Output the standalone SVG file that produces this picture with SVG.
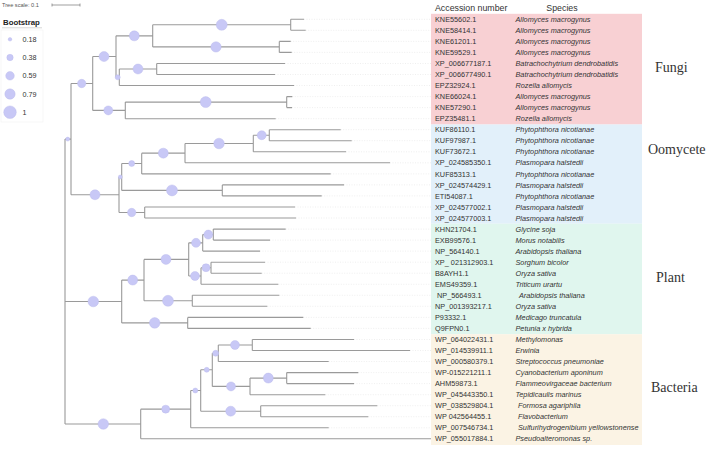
<svg xmlns="http://www.w3.org/2000/svg" width="709" height="450" viewBox="0 0 709 450">
<style>
.br{fill:none;stroke:#9a9a9a;stroke-width:1.1}
.dot{fill:none;stroke:#e4e4e4;stroke-width:0.6;stroke-dasharray:1 1.5}
.bs{fill:#c8c8f6;stroke:#b9b9ec;stroke-width:0.4}
.acc{font-family:"Liberation Sans",Arial,sans-serif;font-size:7.3px;fill:#333}
.sp{font-family:"Liberation Sans",Arial,sans-serif;font-size:7.3px;font-style:italic;fill:#333}
.hdr{font-family:"Liberation Sans",Arial,sans-serif;font-size:8.8px;fill:#333}
.grp{font-family:"Liberation Serif","Times New Roman",serif;font-size:14px;fill:#333}
.lg{font-family:"Liberation Sans",Arial,sans-serif;font-size:7.2px;fill:#333}
</style>
<rect width="709" height="450" fill="#fff"/>
<g id="legend">
<text x="2" y="7" style="font-family:'Liberation Sans',Arial,sans-serif;font-size:5.6px;fill:#555">Tree scale: 0.1</text>
<path d="M52,5 H80 M52,3.5 V6.5 M80,3.5 V6.5" stroke="#777" stroke-width="0.7" fill="none"/>
<text x="3" y="25" style="font-family:'Liberation Sans',Arial,sans-serif;font-size:7.8px;font-weight:bold;fill:#222">Bootstrap</text>
<path d="M2,27.8 H42" stroke="#bbb" stroke-width="0.6"/>
<rect x="1" y="30" width="42" height="92" fill="none" stroke="#f2f2f2" stroke-width="0.6"/>
<circle class="bs" cx="10" cy="39.3" r="1.8"/>
<text class="lg" x="22.5" y="41.8">0.18</text>
<circle class="bs" cx="10" cy="57.5" r="3.2"/>
<text class="lg" x="22.5" y="60">0.38</text>
<circle class="bs" cx="10" cy="75.8" r="4.3"/>
<text class="lg" x="22.5" y="78.3">0.59</text>
<circle class="bs" cx="10" cy="94" r="5.2"/>
<text class="lg" x="22.5" y="96.5">0.79</text>
<circle class="bs" cx="10" cy="112.2" r="6.3"/>
<text class="lg" x="22.5" y="114.7">1</text>
</g>
<g id="clade-boxes">
<rect id="box-fungi" x="431" y="13.8" width="211" height="110.7" fill="#f8d0d3"/>
<rect id="box-oomycete" x="431" y="124.5" width="211" height="99.2" fill="#e2f0fa"/>
<rect id="box-plant" x="431" y="223.7" width="211" height="110.5" fill="#e0f6ee"/>
<rect id="box-bacteria" x="431" y="334.2" width="211" height="110.8" fill="#fbf3e4"/>
</g>
<g id="headers">
<text class="hdr" x="435" y="11">Accession number</text>
<text class="hdr" x="562" y="11" text-anchor="middle">Species</text>
</g>
<g id="group-labels">
<text class="grp" x="655" y="72">Fungi</text>
<text class="grp" x="648" y="154">Oomycete</text>
<text class="grp" x="656" y="282">Plant</text>
<text class="grp" x="651" y="392">Bacteria</text>
</g>
<g id="connectors">
<path class="dot" d="M304,19.3H431 M305.7,30.3H431 M290.7,41.4H431 M291.7,52.4H431 M285,63.5H431 M275,74.5H431 M294,85.5H431 M292.3,96.6H431 M292,107.6H431 M275.7,118.7H431 M340.7,129.7H431 M351.7,140.7H431 M346,151.8H431 M390,162.8H431 M330.7,173.9H431 M344,184.9H431 M321.7,195.9H431 M295,207H431 M296,218H431 M285.7,229.1H431 M270,240.1H431 M260,251.1H431 M265,262.2H431 M261.7,273.2H431 M278.3,284.3H431 M279.3,295.3H431 M267.3,306.3H431 M303.3,317.4H431 M310.7,328.4H431 M354,339.5H431 M410,350.5H431 M328.7,361.5H431 M358.3,372.6H431 M354,383.6H431 M325.3,394.7H431 M377.3,405.7H431 M368.3,416.7H431 M328.7,427.8H431"/>
<path class="br" d="
M290.7,19.3H304 M290.7,30.3H305.7 M290.7,19.3V30.3
M279.3,41.4H290.7 M279.3,52.4H291.7 M279.3,41.4V52.4
M152.7,24.8V46.9 M152.7,24.8H290.7 M152.7,46.9H279.3
M156.7,63.5H285 M156.7,74.5H275 M156.7,63.5V74.5
M119.3,85.5H294 M119.3,69V85.5 M119.3,69H156.7
M116,35.85V77.25 M116,35.85H152.7 M116,77.25H119.3
M286.7,96.6H292.3 M286.7,107.6H292 M286.7,96.6V107.6
M125.3,118.7H275.7 M125.3,102.1V118.7 M125.3,102.1H286.7
M92.7,56.55V110.4 M92.7,56.55H116 M92.7,110.4H125.3
M269.3,129.7H340.7 M269.3,140.7H351.7 M269.3,129.7V140.7
M253.3,151.8H346 M253.3,135.2V151.8 M253.3,135.2H269.3
M185,162.8H390 M185,143.5V162.8 M185,143.5H253.3
M141.7,173.9H330.7 M141.7,153.15V173.9 M141.7,153.15H185
M222.3,184.9H344 M222.3,195.9H321.7 M222.3,184.9V195.9
M121.7,163.5V190.4 M121.7,163.5H141.7 M121.7,190.4H222.3
M144.7,207H295 M144.7,218H296 M144.7,207V218
M119,177V212.5 M119,177H121.7 M119,212.5H144.7
M71,83.5V194.75 M71,83.5H92.7 M71,194.75H119
M213.3,229.1H285.7 M213.3,240.1H270 M213.3,229.1V240.1
M202.7,251.1H260 M202.7,234.6V251.1 M202.7,234.6H213.3
M211,262.2H265 M211,273.2H261.7 M211,262.2V273.2
M201,284.3H278.3 M201,267.7V284.3 M201,267.7H211
M188.7,242.85V276 M188.7,242.85H202.7 M188.7,276H201
M192.3,295.3H279.3 M192.3,306.3H267.3 M192.3,295.3V306.3
M144,259.4V300.8 M144,259.4H188.7 M144,300.8H192.3
M187.7,317.4H303.3 M187.7,328.4H310.7 M187.7,317.4V328.4
M121.7,280.1V322.9 M121.7,280.1H144 M121.7,322.9H187.7
M252.3,339.5H354 M252.3,350.5H410 M252.3,339.5V350.5
M218.3,361.5H328.7 M218.3,345V361.5 M218.3,345H252.3
M286.7,372.6H358.3 M286.7,383.6H354 M286.7,372.6V383.6
M250,394.7H325.3 M250,378.1V394.7 M250,378.1H286.7
M212.3,353.25V386.4 M212.3,353.25H218.3 M212.3,386.4H250
M260.7,405.7H377.3 M260.7,416.7H368.3 M260.7,405.7V416.7
M200.7,369.8V411.2 M200.7,369.8H212.3 M200.7,411.2H260.7
M190.7,427.8H328.7 M190.7,390.5V427.8 M190.7,390.5H200.7
M140.7,438.8H431 M140.7,409.15V438.8 M140.7,409.15H190.7
M65,139.1V424 M65,139.1H71 M65,301.5H121.7 M65,424H140.7"/>
</g>
<g id="bootstrap">
<circle class="bs" cx="81.7" cy="83.5" r="4.2"/>
<circle class="bs" cx="104" cy="56.55" r="5"/>
<circle class="bs" cx="134.3" cy="35.85" r="5"/>
<circle class="bs" cx="221.7" cy="24.8" r="5.5"/>
<circle class="bs" cx="216" cy="46.9" r="5.2"/>
<circle class="bs" cx="138" cy="69" r="5"/>
<circle class="bs" cx="117.7" cy="77.25" r="2.5"/>
<circle class="bs" cx="108.3" cy="110.4" r="4.5"/>
<circle class="bs" cx="205.7" cy="102.1" r="5.5"/>
<circle class="bs" cx="67.7" cy="139.1" r="2"/>
<circle class="bs" cx="95" cy="194.75" r="5"/>
<circle class="bs" cx="131.7" cy="163.5" r="3"/>
<circle class="bs" cx="120.3" cy="177" r="2"/>
<circle class="bs" cx="172" cy="190.4" r="5.5"/>
<circle class="bs" cx="131.7" cy="212.5" r="4.2"/>
<circle class="bs" cx="163.3" cy="153.15" r="5"/>
<circle class="bs" cx="219" cy="143.5" r="5.3"/>
<circle class="bs" cx="261.7" cy="135.2" r="4.5"/>
<circle class="bs" cx="93.3" cy="301.5" r="5.3"/>
<circle class="bs" cx="132.7" cy="280.1" r="5"/>
<circle class="bs" cx="154.7" cy="322.9" r="5.3"/>
<circle class="bs" cx="166" cy="259.4" r="5"/>
<circle class="bs" cx="168" cy="300.8" r="5.5"/>
<circle class="bs" cx="196" cy="242.85" r="4.5"/>
<circle class="bs" cx="195" cy="276" r="4.5"/>
<circle class="bs" cx="208.3" cy="234.6" r="4.5"/>
<circle class="bs" cx="206" cy="267.7" r="4"/>
<circle class="bs" cx="103.3" cy="424" r="5.3"/>
<circle class="bs" cx="165.7" cy="409.15" r="4"/>
<circle class="bs" cx="195.3" cy="390.5" r="2.5"/>
<circle class="bs" cx="206.7" cy="369.8" r="2.5"/>
<circle class="bs" cx="215.7" cy="353.25" r="3"/>
<circle class="bs" cx="235" cy="345" r="4.5"/>
<circle class="bs" cx="231" cy="386.4" r="4.5"/>
<circle class="bs" cx="268.3" cy="378.1" r="5"/>
<circle class="bs" cx="230.7" cy="411.2" r="5"/>
</g>
<g id="leaves">
<g id="leaf-KNE55602"><text class="acc" x="435" y="21.9">KNE55602.1</text><text class="sp" x="515.5" y="21.9">Allomyces macrogynus</text></g>
<g id="leaf-KNE58414"><text class="acc" x="435" y="32.9">KNE58414.1</text><text class="sp" x="515.5" y="32.9">Allomyces macrogynus</text></g>
<g id="leaf-KNE61201"><text class="acc" x="435" y="44">KNE61201.1</text><text class="sp" x="515.5" y="44">Allomyces macrogynus</text></g>
<g id="leaf-KNE59529"><text class="acc" x="435" y="55">KNE59529.1</text><text class="sp" x="515.5" y="55">Allomyces macrogynus</text></g>
<g id="leaf-XP_006677187"><text class="acc" x="435" y="66.1">XP_006677187.1</text><text class="sp" x="515.5" y="66.1">Batrachochytrium dendrobatidis</text></g>
<g id="leaf-XP_006677490"><text class="acc" x="435" y="77.1">XP_006677490.1</text><text class="sp" x="515.5" y="77.1">Batrachochytrium dendrobatidis</text></g>
<g id="leaf-EPZ32924"><text class="acc" x="435" y="88.1">EPZ32924.1</text><text class="sp" x="515.5" y="88.1">Rozella allomycis</text></g>
<g id="leaf-KNE66024"><text class="acc" x="435" y="99.2">KNE66024.1</text><text class="sp" x="515.5" y="99.2">Allomyces macrogynus</text></g>
<g id="leaf-KNE57290"><text class="acc" x="435" y="110.2">KNE57290.1</text><text class="sp" x="515.5" y="110.2">Allomyces macrogynus</text></g>
<g id="leaf-EPZ35481"><text class="acc" x="435" y="121.3">EPZ35481.1</text><text class="sp" x="515.5" y="121.3">Rozella allomycis</text></g>
<g id="leaf-KUF86110"><text class="acc" x="435" y="132.3">KUF86110.1</text><text class="sp" x="515.5" y="132.3">Phytophthora nicotianae</text></g>
<g id="leaf-KUF97987"><text class="acc" x="435" y="143.3">KUF97987.1</text><text class="sp" x="515.5" y="143.3">Phytophthora nicotianae</text></g>
<g id="leaf-KUF73672"><text class="acc" x="435" y="154.4">KUF73672.1</text><text class="sp" x="515.5" y="154.4">Phytophthora nicotianae</text></g>
<g id="leaf-XP_024585350"><text class="acc" x="435" y="165.4">XP_024585350.1</text><text class="sp" x="515.5" y="165.4">Plasmopara halstedii</text></g>
<g id="leaf-KUF85313"><text class="acc" x="435" y="176.5">KUF85313.1</text><text class="sp" x="515.5" y="176.5">Phytophthora nicotianae</text></g>
<g id="leaf-XP_024574429"><text class="acc" x="435" y="187.5">XP_024574429.1</text><text class="sp" x="515.5" y="187.5">Plasmopara halstedii</text></g>
<g id="leaf-ETI54087"><text class="acc" x="435" y="198.5">ETI54087.1</text><text class="sp" x="515.5" y="198.5">Phytophthora nicotianae</text></g>
<g id="leaf-XP_024577002"><text class="acc" x="435" y="209.6">XP_024577002.1</text><text class="sp" x="515.5" y="209.6">Plasmopara halstedii</text></g>
<g id="leaf-XP_024577003"><text class="acc" x="435" y="220.6">XP_024577003.1</text><text class="sp" x="515.5" y="220.6">Plasmopara halstedii</text></g>
<g id="leaf-KHN21704"><text class="acc" x="435" y="231.7">KHN21704.1</text><text class="sp" x="515.5" y="231.7">Glycine soja</text></g>
<g id="leaf-EXB99576"><text class="acc" x="435" y="242.7">EXB99576.1</text><text class="sp" x="515.5" y="242.7">Morus notabilis</text></g>
<g id="leaf-NP_564140"><text class="acc" x="435" y="253.7">NP_564140.1</text><text class="sp" x="515.5" y="253.7">Arabidopsis thaliana</text></g>
<g id="leaf-XP_021312903"><text class="acc" x="435" y="264.8">XP_ 021312903.1</text><text class="sp" x="515.5" y="264.8">Sorghum bicolor</text></g>
<g id="leaf-B8AYH1"><text class="acc" x="435" y="275.8">B8AYH1.1</text><text class="sp" x="515.5" y="275.8">Oryza sativa</text></g>
<g id="leaf-EMS49359"><text class="acc" x="435" y="286.9">EMS49359.1</text><text class="sp" x="515.5" y="286.9">Triticum urartu</text></g>
<g id="leaf-NP_566493"><text class="acc" x="437" y="297.9">NP_566493.1</text><text class="sp" x="519" y="297.9">Arabidopsis thaliana</text></g>
<g id="leaf-NP_001393217"><text class="acc" x="435" y="308.9">NP_001393217.1</text><text class="sp" x="515.5" y="308.9">Oryza sativa</text></g>
<g id="leaf-P93332"><text class="acc" x="435" y="320">P93332.1</text><text class="sp" x="515.5" y="320">Medicago truncatula</text></g>
<g id="leaf-Q9FPN0"><text class="acc" x="435" y="331">Q9FPN0.1</text><text class="sp" x="515.5" y="331">Petunia x hybrida</text></g>
<g id="leaf-WP_064022431"><text class="acc" x="435" y="342.1">WP_064022431.1</text><text class="sp" x="515.5" y="342.1">Methylomonas</text></g>
<g id="leaf-WP_014539911"><text class="acc" x="435" y="353.1">WP_014539911.1</text><text class="sp" x="515.5" y="353.1">Erwinia</text></g>
<g id="leaf-WP_000580379"><text class="acc" x="435" y="364.1">WP_000580379.1</text><text class="sp" x="515.5" y="364.1">Streptococcus pneumoniae</text></g>
<g id="leaf-WP-015221211"><text class="acc" x="435" y="375.2">WP-015221211.1</text><text class="sp" x="515.5" y="375.2">Cyanobacterium aponinum</text></g>
<g id="leaf-AHM59873"><text class="acc" x="435" y="386.2">AHM59873.1</text><text class="sp" x="515.5" y="386.2">Flammeovirgaceae bacterium</text></g>
<g id="leaf-WP_045443350"><text class="acc" x="435" y="397.3">WP_045443350.1</text><text class="sp" x="515.5" y="397.3">Tepidicaulis marinus</text></g>
<g id="leaf-WP_038529804"><text class="acc" x="435" y="408.3">WP_038529804.1</text><text class="sp" x="518" y="408.3">Formosa agariphila</text></g>
<g id="leaf-WP_042564455"><text class="acc" x="435" y="419.3">WP 042564455.1</text><text class="sp" x="518" y="419.3">Flavobacterium</text></g>
<g id="leaf-WP_007546734"><text class="acc" x="435" y="430.4">WP_007546734.1</text><text class="sp" x="518" y="430.4">Sulfurihydrogenibium yellowstonense</text></g>
<g id="leaf-WP_055017884"><text class="acc" x="435" y="441.4">WP_055017884.1</text><text class="sp" x="515.5" y="441.4">Pseudoalteromonas sp.</text></g>
</g>
</svg>
